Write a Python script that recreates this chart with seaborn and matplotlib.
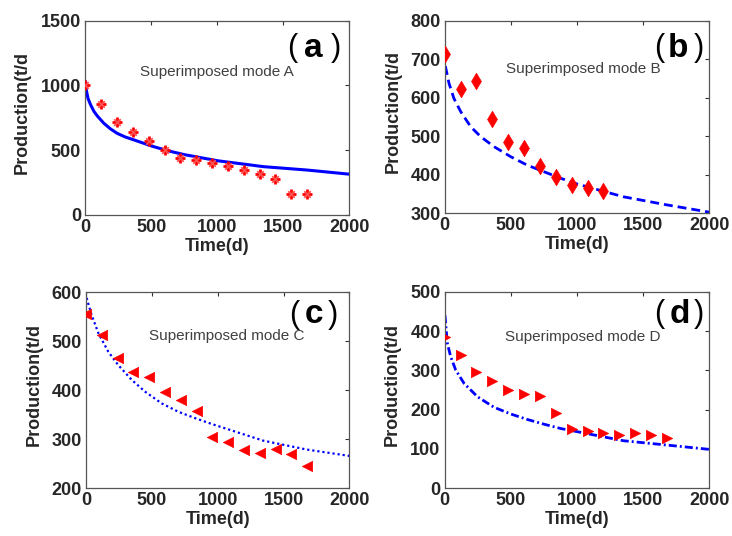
import numpy as np
import pandas as pd
import matplotlib
matplotlib.use("Agg")
import matplotlib.pyplot as plt
import seaborn as sns

# measured production data (t/d), sampled every 120 days
days_a = [0, 120, 240, 360, 480, 600, 720, 840, 960, 1080, 1200, 1320, 1440, 1560, 1680]
prod_a = [1000, 857, 716, 638, 571, 502, 437, 425, 399, 381, 347, 317, 278, 162, 162]

days_b = [0, 120, 240, 360, 480, 600, 720, 840, 960, 1080, 1200]
prod_b = [713, 622, 643, 546, 484, 470, 423, 395, 374, 367, 359]

days_c = [0, 120, 240, 360, 480, 600, 720, 840, 960, 1080, 1200, 1320, 1440, 1560, 1680]
prod_c = [555, 512, 466, 438, 426, 396, 380, 358, 305, 295, 278, 272, 281, 269, 246]

days_d = [0, 120, 240, 360, 480, 600, 720, 840, 960, 1080, 1200, 1320, 1440, 1560, 1680]
prod_d = [385, 339, 296, 273, 250, 240, 235, 192, 150, 145, 140, 136, 140, 136, 127]

# model curves
fit_t_a = [2, 8, 20, 40, 65, 90, 140, 190, 240, 300, 370, 500, 620, 750, 1000, 1350, 1680, 2000]
fit_a = [1030, 960, 900, 850, 800, 765, 708, 665, 631, 603, 579, 533, 497, 466, 419, 373, 347, 315]

fit_t_b = [5, 33, 70, 121, 196, 272, 373, 499, 624, 750, 877, 1002, 1350, 1678, 2000]
fit_b = [682, 637, 598, 564, 525, 499, 473, 447, 425, 408, 391, 376, 343, 322, 303]

fit_t_c = [5, 13, 43, 94, 170, 245, 347, 448, 575, 701, 828, 955, 1347, 1676, 2000]
fit_c = [588, 580, 553, 516, 478, 451, 421, 397, 373, 356, 343, 331, 297, 279, 266]

fit_t_d = [2, 7, 20, 45, 83, 146, 247, 373, 499, 625, 751, 877, 1002, 1350, 1678, 2000]
fit_d = [440, 420, 369, 335, 301, 267, 233, 206, 189, 175, 163, 152, 144, 121, 110, 99]

panels = [
    dict(t=days_a, y=prod_a, ft=fit_t_a, fy=fit_a, marker="star", ls="-", lw=2.2,
         ylim=(0, 1500), yticks=[0, 500, 1000, 1500], tag="a", mode="Superimposed mode A",
         txt=(0.50, 0.735), tagx=(0.784, 0.864, 0.948), tagy=0.858, ylab=(-0.207, 0.53),
         pos=[0.1166, 0.5989, 0.3607, 0.3625]),
    dict(t=days_b, y=prod_b, ft=fit_t_b, fy=fit_b, marker="d", ls=(0, (3.2, 1.8)), lw=2.0,
         ylim=(300, 800), yticks=[300, 400, 500, 600, 700, 800], tag="b", mode="Superimposed mode B",
         txt=(0.523, 0.748), tagx=(0.811, 0.880, 0.962), tagy=0.857, ylab=(-0.161, 0.53),
         pos=[0.6075, 0.6020, 0.3615, 0.3594]),
    dict(t=days_c, y=prod_c, ft=fit_t_c, fy=fit_c, marker="<", ls=(0, (1, 1.3)), lw=1.6,
         ylim=(200, 600), yticks=[200, 300, 400, 500, 600], tag="c", mode="Superimposed mode C",
         txt=(0.535, 0.775), tagx=(0.790, 0.866, 0.936), tagy=0.885, ylab=(-0.166, 0.53),
         pos=[0.1175, 0.0890, 0.3598, 0.3662]),
    dict(t=days_d, y=prod_d, ft=fit_t_d, fy=fit_d, marker=">", ls=(0, (2.9, 1.1, 0.7, 1.1)), lw=2.0,
         ylim=(0, 500), yticks=[0, 100, 200, 300, 400, 500], tag="d", mode="Superimposed mode D",
         txt=(0.523, 0.770), tagx=(0.811, 0.887, 0.962), tagy=0.885, ylab=(-0.165, 0.53),
         pos=[0.6075, 0.0890, 0.3615, 0.3668]),
]

sns.set_style("white")
plt.rcParams["font.family"] = ["Liberation Sans", "DejaVu Sans"]

fig = plt.figure(figsize=(7.32, 5.36), dpi=100)

for p in panels:
    ax = fig.add_axes(p["pos"])
    curve = pd.DataFrame({"t": p["ft"], "y": p["fy"]})
    sns.lineplot(data=curve, x="t", y="y", ax=ax, color="#0000ff", linewidth=p["lw"],
                 linestyle=p["ls"], zorder=2)
    pts = pd.DataFrame({"t": p["t"], "y": p["y"]})
    if p["marker"] == "star":
        # MATLAB-style asterisk: plus with fainter diagonals
        sns.scatterplot(data=pts, x="t", y="y", ax=ax, marker="+", s=60, color="red",
                        linewidth=2.0, zorder=3)
        sns.scatterplot(data=pts, x="t", y="y", ax=ax, marker="x", s=22, color="#ff5050",
                        linewidth=1.3, zorder=3)
    elif p["marker"] == "d":
        sns.scatterplot(data=pts, x="t", y="y", ax=ax, marker="d", s=70,
                        color="red", edgecolor="red", linewidth=0.5, zorder=3)
    else:
        sns.scatterplot(data=pts, x="t", y="y", ax=ax, marker=p["marker"], s=55,
                        color="red", edgecolor="red", linewidth=0.5, zorder=3)

    ax.set_xlim(0, 2000)
    ax.set_ylim(*p["ylim"])
    ax.set_xticks([0, 500, 1000, 1500, 2000])
    ax.set_yticks(p["yticks"])
    ax.tick_params(direction="in", length=3, width=0.8, color="#333333", top=True, right=True,
                   labelsize=13, pad=3)
    for lab in ax.get_xticklabels() + ax.get_yticklabels():
        lab.set_fontweight("bold")
    for sp in ax.spines.values():
        sp.set_color("#555555")
        sp.set_linewidth(0.9)
    ax.set_xlabel("Time(d)", fontsize=13, fontweight="bold", labelpad=1)
    ax.set_ylabel("Production(t/d", fontsize=13, fontweight="bold")
    ax.yaxis.set_label_coords(*p["ylab"])

    ax.text(p["txt"][0], p["txt"][1], p["mode"], transform=ax.transAxes, ha="center",
            va="center", fontsize=11, color="#404040")
    lx, mx, rx = p["tagx"]
    ax.text(lx, p["tagy"], "(", transform=ax.transAxes, ha="center", va="center",
            fontsize=22, color="black")
    ax.text(mx, p["tagy"], p["tag"], transform=ax.transAxes, ha="center", va="center",
            fontsize=24, fontweight="bold", color="black")
    ax.text(rx, p["tagy"], ")", transform=ax.transAxes, ha="center", va="center",
            fontsize=22, color="black")

fig.savefig("out.png", dpi=100)
